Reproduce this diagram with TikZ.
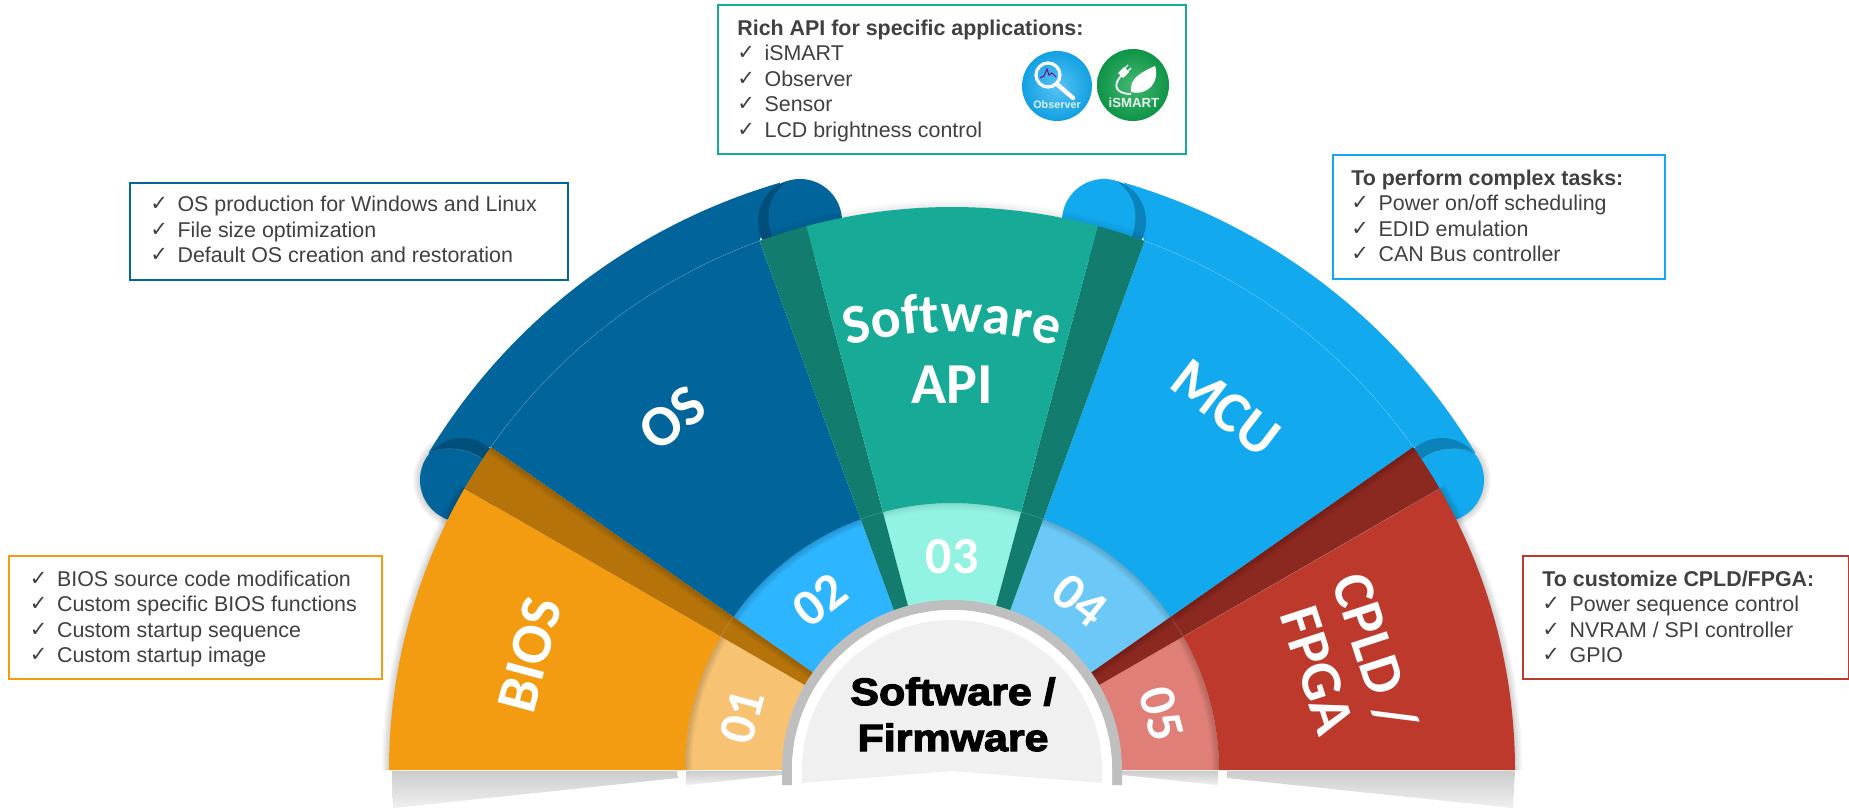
\documentclass[tikz,border=0pt]{standalone}
\usepackage{fontspec}
\usetikzlibrary{calc,decorations.text}
\setmainfont{Liberation Sans}
\newfontfamily\carlito{Carlito}
\newfontfamily\djv{DejaVu Sans}
\newfontfamily\blackfont[BoldFeatures={FakeBold=3.2,FakeStretch=1.13}]{Liberation Sans}
\definecolor{cBios}{HTML}{F39C12}
\definecolor{cBiosL}{HTML}{F7C373}
\definecolor{cBiosD}{HTML}{B5730A}
\definecolor{cOs}{HTML}{01659B}
\definecolor{cOsL}{HTML}{2EB5FF}
\definecolor{cOsD}{HTML}{004F7A}
\definecolor{cApi}{HTML}{17AB97}
\definecolor{cApiL}{HTML}{93F3E3}
\definecolor{cApiD}{HTML}{127D6F}
\definecolor{cMcu}{HTML}{12A9EE}
\definecolor{cMcuL}{HTML}{6CC9F7}
\definecolor{cMcuD}{HTML}{0C82BA}
\definecolor{cCpld}{HTML}{BC392B}
\definecolor{cCpldL}{HTML}{DF7F78}
\definecolor{cCpldD}{HTML}{8B2820}
\definecolor{cTxt}{HTML}{404040}
\definecolor{cFloorA}{HTML}{CCCCCC}
\definecolor{cFloorB}{HTML}{F0F0F0}
\definecolor{cLeafA}{HTML}{45B870}
\definecolor{cLeafB}{HTML}{0E9447}
\newcommand\chk{\makebox[13.6pt][l]{\raisebox{.6pt}{\djv\fontsize{10.5}{10.5}\selectfont\char"2713}}}
\newcommand\fstrut{\rule{0pt}{10pt}}
\newcommand\sector[5]{\fill[#1] ($(c)+(#2:#4)$) arc[start angle=#2,end angle=#3,radius=#4] -- ($(c)+(#3:#5)$) arc[start angle=#3,end angle=#2,radius=#5] -- cycle;}
\newcommand\softs[2][.035]{\foreach \w in {2,5,8,11,14}{\draw[black,opacity=#1,line width=\w*0.5pt] #2;}}
\newcommand\bigf{\carlito\bfseries\fontsize{29}{30}\selectfont}
\tikzset{
  x=0.5pt,y=0.5pt,
  infobox/.style={draw=#1,line width=1pt,fill=white,anchor=north west,inner sep=0pt},
  infotext/.style={anchor=north west,inner sep=0pt,align=left,text=cTxt,font=\fontsize{10.7}{12.75}\selectfont},
  seglabel/.style={text=white,font=\bigf,inner sep=0pt,align=center},
  numlabel/.style={text=white,font=\carlito\bfseries\fontsize{26}{26}\selectfont,inner sep=0pt},
  thin line/.style={draw=white,draw opacity=.18,line width=.3pt},
  floor/.style={top color=cFloorA,bottom color=cFloorB,draw=none},
}
\begin{document}
\begin{tikzpicture}
\useasboundingbox (0,0) rectangle (1849,-808);
\fill[white] (0,0) rectangle (1849,-808);
\coordinate (c) at (952,-770);
% floor shadows
\shade[floor] (392,-771) -- (677,-771) -- (678,-778) -- (393,-808) -- cycle;
\shade[floor] (686,-771) -- (782,-771) -- (782,-775) -- (686,-785) -- cycle;
\shade[floor] (1227,-771) -- (1515,-771) -- (1513,-808) -- (1227,-778) -- cycle;
\shade[floor] (1122,-771) -- (1218,-771) -- (1218,-785) -- (1122,-775) -- cycle;
% rims and rolled ends, OS
\softs{(462,-480) circle[radius=42]}
\softs{(1442,-480) circle[radius=42]}
\fill[cOs] ($(c)+(148.8:612)$) arc[start angle=148.8,end angle=106.3,radius=612] -- ($(c)+(110:563)$) arc[start angle=110,end angle=145,radius=563] -- cycle;
\fill[cOs] (462,-480) circle[radius=42];
\fill[cOs] (800,-221) circle[radius=42];
\fill[cOsD] ($(462,-480)+(141.6:42)$) arc[start angle=141.6,end angle=47.8,radius=42] -- (482,-459) .. controls (470,-449) and (445,-445) .. cycle;
\draw[thin line] (482,-459) .. controls (470,-449) and (445,-445) .. (428,-453);
\fill[cOsD] ($(800,-221)+(108:42)$) arc[start angle=108,end angle=205.4,radius=42] -- (772,-237) .. controls (765,-215) and (768,-195) .. cycle;
% rims and rolled ends, MCU
\fill[cMcu] ($(c)+(31.2:612)$) arc[start angle=31.2,end angle=73.7,radius=612] -- ($(c)+(70:563)$) arc[start angle=70,end angle=35,radius=563] -- cycle;
\fill[cMcu] (1442,-480) circle[radius=42];
\fill[cMcu] (1104,-221) circle[radius=42];
\fill[cMcuD] ($(1442,-480)+(38.4:42)$) arc[start angle=38.4,end angle=132.2,radius=42] -- (1422,-459) .. controls (1434,-449) and (1459,-445) .. cycle;
\draw[thin line] (1422,-459) .. controls (1434,-449) and (1459,-445) .. (1476,-453);
\fill[cMcuD] ($(1104,-221)+(72:42)$) arc[start angle=72,end angle=-25.4,radius=42] -- (1132,-237) .. controls (1139,-215) and (1136,-195) .. cycle;
% numbered inner sectors
\sector{cOsL}{145}{110}{268}{165}
\sector{cMcuL}{70}{35}{268}{165}
\sector{cApiL}{105}{75}{268}{165}
\softs{($(c)+(145:267)$) arc[start angle=145,end angle=110,radius=267]}
\softs{($(c)+(70:267)$) arc[start angle=70,end angle=35,radius=267]}
\softs[.02]{($(c)+(105:267)$) arc[start angle=105,end angle=75,radius=267]}
% main sectors OS, MCU
\sector{cOs}{145}{110}{563}{267}
\sector{cMcu}{70}{35}{563}{267}
\draw[thin line] ($(c)+(145:563)$) arc[start angle=145,end angle=110,radius=563];
\draw[thin line] ($(c)+(70:563)$) arc[start angle=70,end angle=35,radius=563];
% Software API sector and bands
\softs[.015]{($(c)+(110:563)$) arc[start angle=110,end angle=70,radius=563]}
\sector{cApiD}{110}{105}{563}{165}
\sector{cApiD}{75}{70}{563}{165}
\sector{cApi}{105}{75}{563}{267}
\draw[thin line] ($(c)+(110:267)$) arc[start angle=110,end angle=105,radius=267];
\draw[thin line] ($(c)+(75:267)$) arc[start angle=75,end angle=70,radius=267];
% BIOS
\softs{($(c)+(180:563)$) arc[start angle=180,end angle=150,radius=563]}
\softs{($(c)+(0:563)$) arc[start angle=0,end angle=30,radius=563]}
\sector{cBiosL}{180}{150}{267}{165}
\sector{cCpldL}{30}{0}{267}{165}
\softs{($(c)+(180:267)$) arc[start angle=180,end angle=150,radius=267]}
\softs{($(c)+(30:267)$) arc[start angle=30,end angle=0,radius=267]}
\sector{cBios}{180}{150}{563}{267}
\sector{cCpld}{30}{0}{563}{267}
\sector{cBiosD}{150}{145}{563}{165}
\sector{cCpldD}{35}{30}{563}{165}
\begin{scope}
  \clip ($(c)+(150:563)$) -- ($(c)+(145:563)$) -- ($(c)+(145:165)$) -- ($(c)+(150:165)$) -- cycle;
  \softs{($(c)+(145:165)$) -- ($(c)+(145:563)$)}
\end{scope}
\begin{scope}
  \clip ($(c)+(30:563)$) -- ($(c)+(35:563)$) -- ($(c)+(35:165)$) -- ($(c)+(30:165)$) -- cycle;
  \softs{($(c)+(35:165)$) -- ($(c)+(35:563)$)}
\end{scope}
\draw[thin line] ($(c)+(150:267)$) arc[start angle=150,end angle=145,radius=267];
\draw[thin line] ($(c)+(35:267)$) arc[start angle=35,end angle=30,radius=267];
\draw[thin line] ($(c)+(30:267)$) -- ($(c)+(30:563)$);
% centre ring and disc
\fill[black!25] (782,-785) -- (782,-770) arc[start angle=180,end angle=0,radius=170] -- (1122,-785) -- (1112,-785) -- (1112,-770) arc[start angle=0,end angle=180,radius=160] -- (792,-785) -- cycle;
\fill[white] (792,-785) -- (792,-770) arc[start angle=180,end angle=0,radius=160] -- (1112,-785) -- cycle;
\fill[black!6] (802,-783) -- (802,-770) arc[start angle=180,end angle=0,radius=150] -- (1102,-783) -- (952,-771) -- cycle;
\node[inner sep=0pt,align=center,anchor=base,font=\blackfont\bfseries\fontsize{19}{23}\selectfont] (centre) at (953,-751) {Software /\\Firmware};
% sector labels
\node[seglabel,rotate=75] (lbios) at (530,-655) {BIOS};
\node[seglabel,rotate=37.5] (los) at (672,-418) {OS};
\node[seglabel,rotate=-37.5] (lmcu) at (1226,-408) {MCU};
\node[seglabel,rotate=-72] (lcpld) at (1347,-661) {CPLD /\\FPGA};
\node[seglabel,anchor=base] (lapi) at (952,-403) {API};
\path[decorate,decoration={text along path,text align=center,text color=white,text={|\carlito\bfseries\fontsize{28}{30}\selectfont|Software}}]
  ($(952,-736)+(110:404)$) arc[start angle=110,end angle=70,radius=404];
\node[numlabel,rotate=75] (n1) at (742,-717) {01};
\node[numlabel,rotate=38] (n2) at (820,-600) {02};
\node[numlabel] (n3) at (952,-557) {03};
\node[numlabel,rotate=-38] (n4) at (1080,-600) {04};
\node[numlabel,rotate=-75] (n5) at (1162,-714) {05};
% info boxes
\node[infobox=cApi,minimum width=234pt,minimum height=74.5pt] (bapi) at (717,-4) {};
\node[infotext] (tapi) at (737,-15) {\fstrut\textbf{Rich API for specific applications:}\\\chk iSMART\\\chk Observer\\\chk Sensor\\\chk LCD brightness control};
\node[infobox=cOs,minimum width=219pt,minimum height=48.5pt] (bos) at (129,-182) {};
\node[infotext] (tos) at (150,-191.6) {\fstrut\chk OS production for Windows and Linux\\\chk File size optimization\\\chk Default OS creation and restoration};
\node[infobox=cBios,minimum width=186.5pt,minimum height=61.5pt] (bbios) at (8,-555) {};
\node[infotext] (tbios) at (29.5,-566) {\fstrut\chk BIOS source code modification\\\chk Custom specific BIOS functions\\\chk Custom startup sequence\\\chk Custom startup image};
\node[infobox=cMcu,minimum width=166pt,minimum height=62pt] (bmcu) at (1332,-154) {};
\node[infotext] (tmcu) at (1351,-165) {\fstrut\textbf{To perform complex tasks:}\\\chk Power on/off scheduling\\\chk EDID emulation\\\chk CAN Bus controller};
\node[infobox=cCpld,minimum width=163pt,minimum height=61.5pt] (bcpld) at (1522,-555) {};
\node[infotext] (tcpld) at (1542,-566) {\fstrut\textbf{To customize CPLD/FPGA:}\\\chk Power sequence control\\\chk NVRAM / SPI controller\\\chk GPIO};
% Observer icon
\shade[inner color=cMcu!70!white,outer color=cMcu!95!black] (1057,-86) circle[radius=35];
\draw[white,line width=1.6pt] (1048,-75) circle[radius=12];
\draw[white,line width=2.2pt,line cap=round] (1058,-85) -- (1073,-98);
\draw[red!50!blue,line width=.5pt] (1040,-78) -- (1044,-76) -- (1047,-69) -- (1049,-75) -- (1052,-73) -- (1056,-77);
\node[inner sep=0pt,text=white!85!cMcu,font=\bfseries\fontsize{5.4}{5.4}\selectfont] (iobs) at (1057,-105) {Observer};
% iSMART icon
\shade[inner color=cLeafA,outer color=cLeafB] (1133,-85) circle[radius=36];
\fill[white] (1131,-92) .. controls (1129,-78) and (1142,-72) .. (1155,-66) .. controls (1160,-82) and (1148,-96) .. cycle;
\draw[white,line width=.9pt] (1122,-75) .. controls (1111,-86) and (1117,-94) .. (1131,-94);
\fill[white] (1118,-73) -- (1124,-67) -- (1129,-72) -- (1123,-78) -- cycle;
\draw[white,line width=.6pt] (1124,-69) -- (1128,-65) (1127,-72) -- (1131,-68);
\node[inner sep=0pt,text=white!90!cLeafB,font=\bfseries\fontsize{6.6}{6.6}\selectfont] (ismart) at (1134,-103) {iSMART};
\end{tikzpicture}
\end{document}
